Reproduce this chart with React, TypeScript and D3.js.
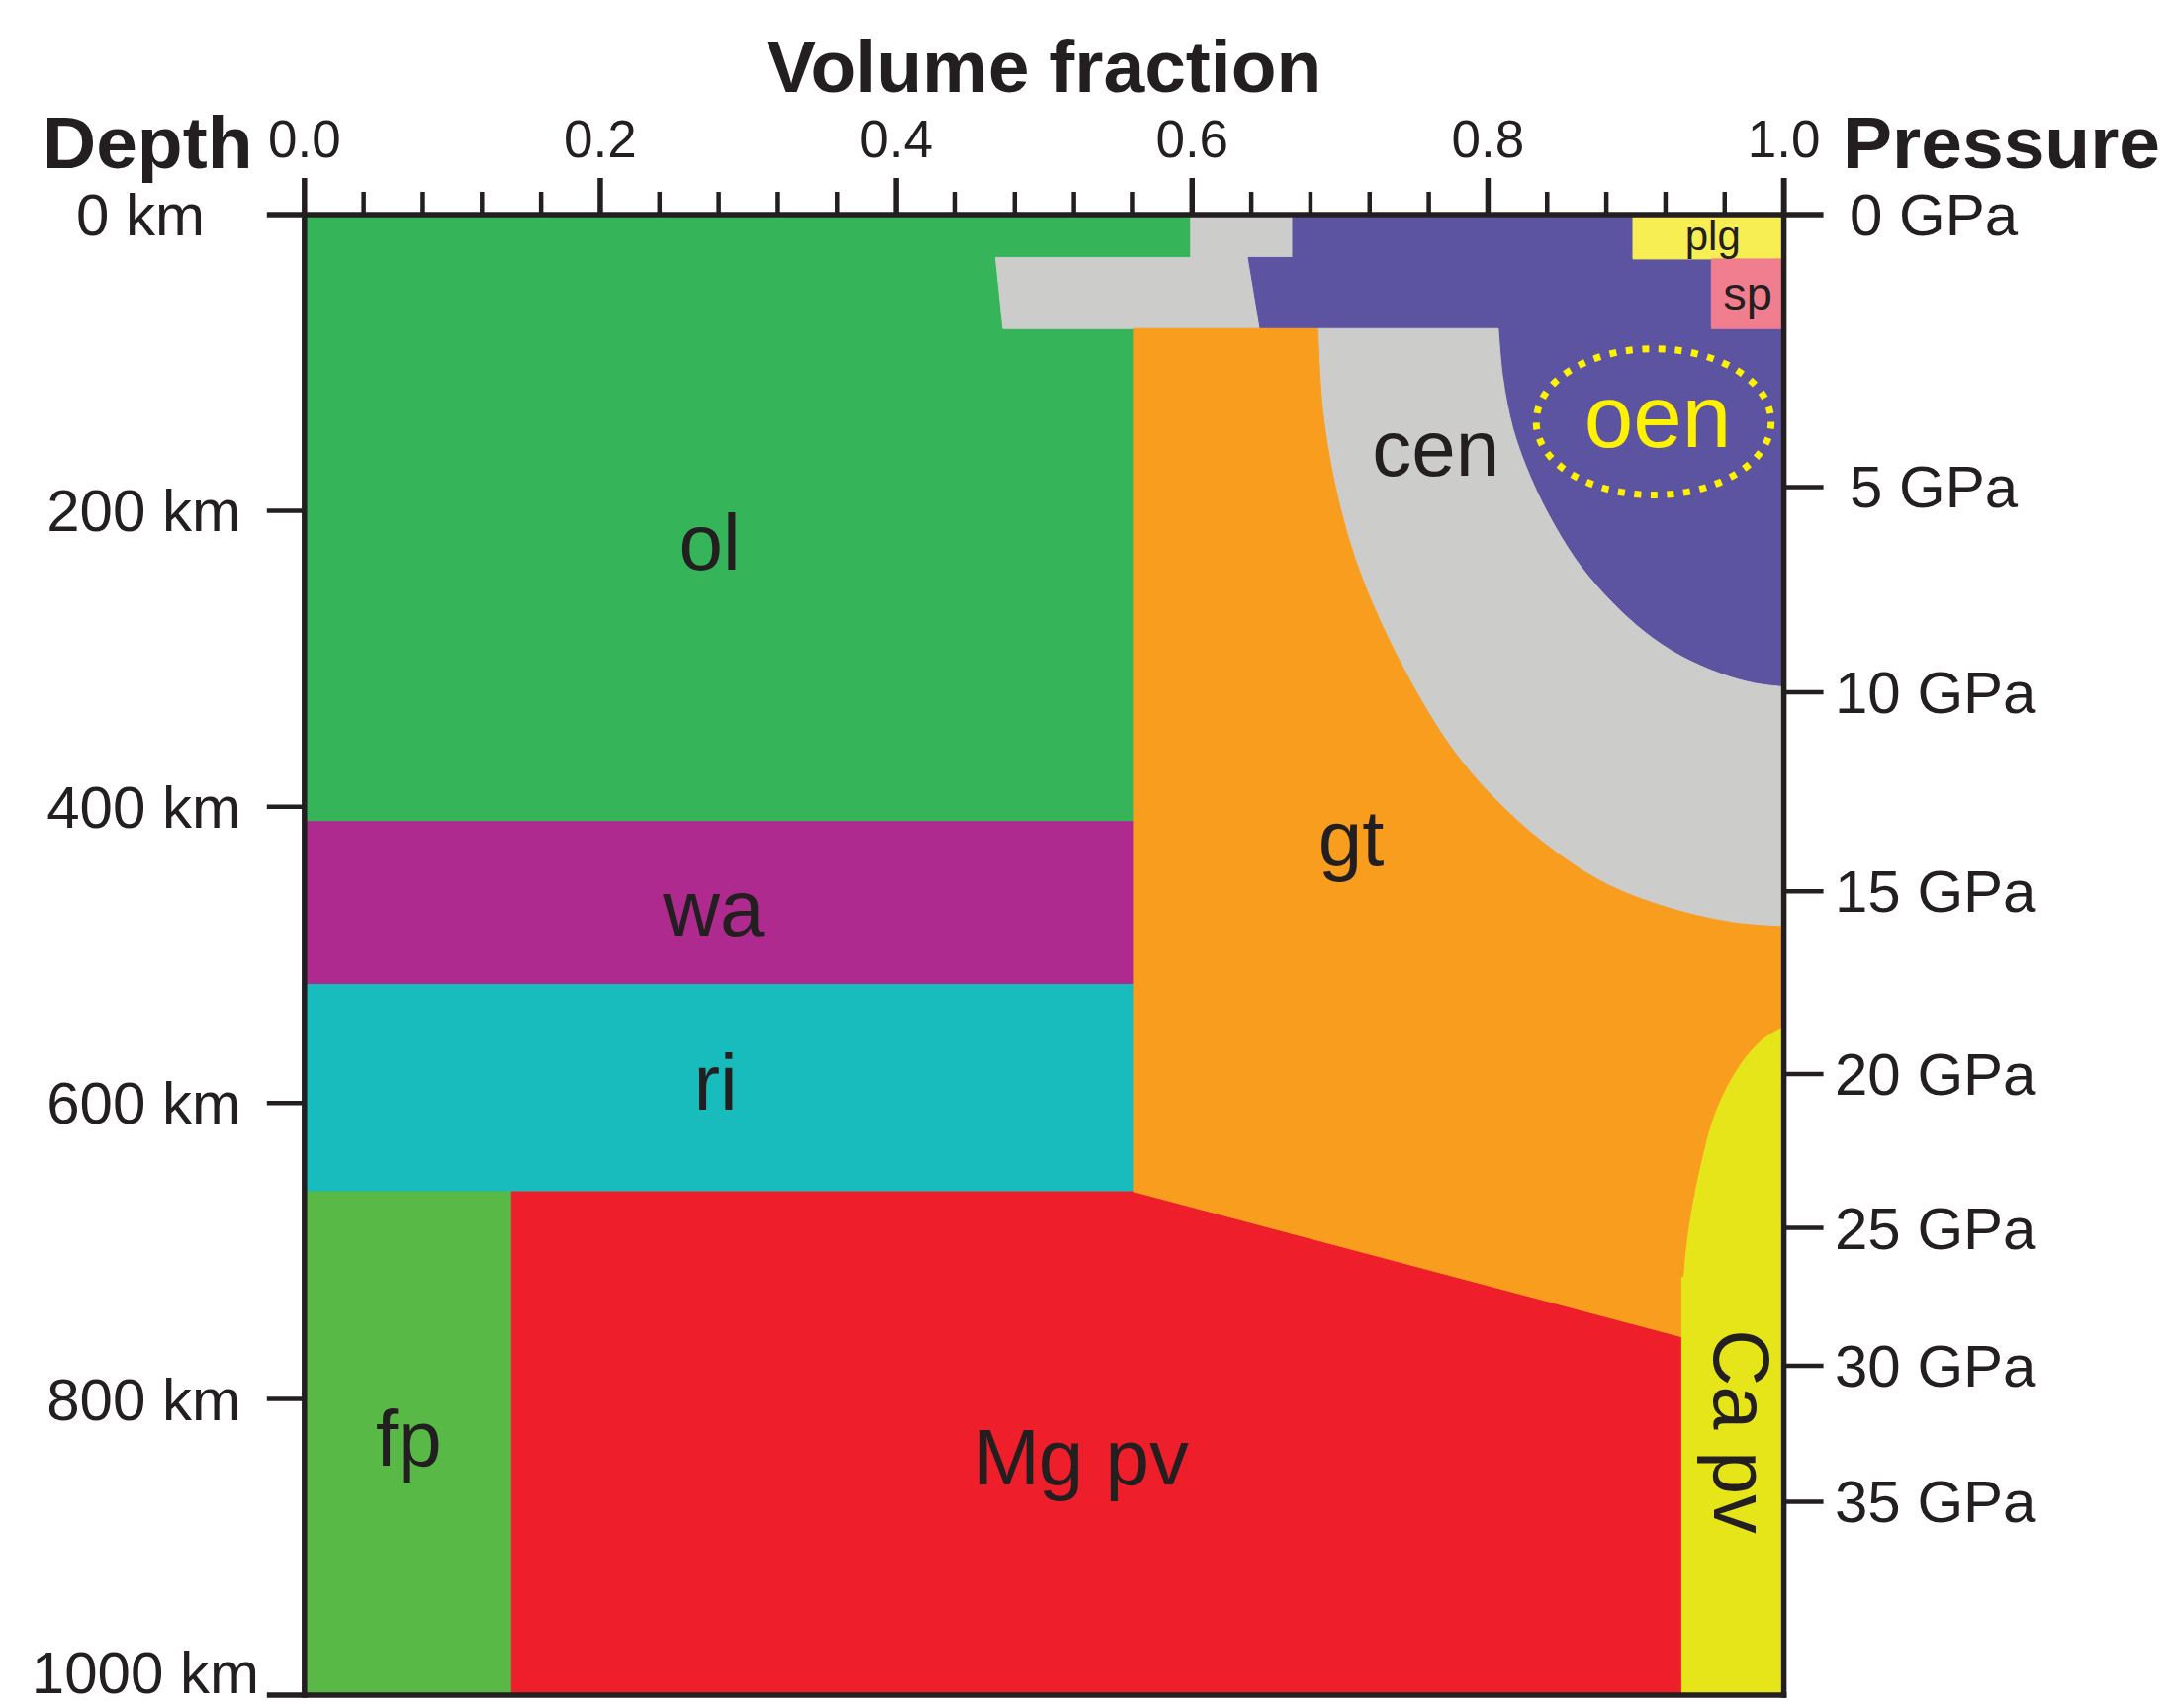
import React from 'react';
import * as d3 from 'd3';

// ---- axis values ----
const fractionTickValues = [0, 0.2, 0.4, 0.6, 0.8, 1.0];
const fractionTickLabels = ['0.0', '0.2', '0.4', '0.6', '0.8', '1.0'];
const fractionMinorStep = 0.04;
const depthTicks = [0, 200, 400, 600, 800, 1000];
const depthTickLabels = ['0 km', '200 km', '400 km', '600 km', '800 km', '1000 km'];
const pressureTicks = [0, 5, 10, 15, 20, 25, 30, 35];
const pressureTickLabels = ['0 GPa', '5 GPa', '10 GPa', '15 GPa', '20 GPa', '25 GPa', '30 GPa', '35 GPa'];
// depth (km) at which each pressure is reached
const pressureDepthKm = [0, 184, 322.6, 457, 580.5, 684.4, 777.6, 869.4];

// ---- phase fields: [volume fraction, depth km] ----
const olPhase: [number, number][] = [[0, 0], [0.599, 0], [0.599, 29], [0.467, 29], [0.472, 77], [0.561, 77], [0.561, 410], [0, 410]];
const cpxShallowPhase: [number, number][] = [[0.599, 0], [0.668, 0], [0.668, 29], [0.638, 29], [0.646, 77], [0.472, 77], [0.467, 29], [0.599, 29]];
const waPhase: [number, number][] = [[0, 410], [0.561, 410], [0.561, 520], [0, 520]];
const riPhase: [number, number][] = [[0, 520], [0.561, 520], [0.561, 660], [0, 660]];
const fpPhase: [number, number][] = [[0, 660], [0.14, 660], [0.14, 1000], [0, 1000]];
const mgPvPhase: [number, number][] = [[0.14, 660], [0.561, 660], [0.931, 758], [0.931, 1000], [0.14, 1000]];
const plgPhase: [number, number][] = [[0.898, 0], [1, 0], [1, 30], [0.898, 30]];
const spPhase: [number, number][] = [[0.951, 30], [1, 30], [1, 77], [0.951, 77]];
const oenShallowEdge: [number, number][] = [[0.668, 0], [0.898, 0], [0.898, 30], [0.951, 30], [0.951, 77], [1, 77], [1, 319]];
const oenUpperLeftEdge: [number, number][] = [[0.807, 77], [0.646, 77], [0.638, 29], [0.668, 29]];

// curved phase boundaries
const cenOenBoundary: [number, number][] = [
  [0.807, 77], [0.81, 110], [0.817, 145], [0.829, 178], [0.845, 210], [0.863, 238],
  [0.884, 262], [0.906, 282], [0.93, 298], [0.957, 310], [0.98, 316.5], [1.0, 319],
];
const gtCenBoundary: [number, number][] = [
  [0.685, 77], [0.688, 130], [0.696, 180], [0.71, 232], [0.732, 285], [0.762, 340],
  [0.782, 369], [0.806, 396], [0.836, 423], [0.876, 450], [0.918, 467], [0.964, 478], [1.0, 481],
];
const caPvBoundary: [number, number][] = [
  [1.0, 548.6], [0.988, 555.5], [0.977, 566], [0.967, 580], [0.958, 597], [0.951, 615],
  [0.946, 634], [0.941, 656], [0.937, 678], [0.934, 700], [0.9325, 718],
];
const caPvLowerEdge: [number, number][] = [[0.931, 718], [0.931, 1000], [1, 1000]];
const gtLowerEdge: [number, number][] = [[0.931, 718], [0.931, 758], [0.561, 660]];

// phase names and anchor points [fraction, depth]
const phaseLabels = [
  { text: 'ol', at: [0.274, 240] },
  { text: 'wa', at: [0.2765, 487] },
  { text: 'ri', at: [0.278, 604.5] },
  { text: 'fp', at: [0.0706, 845] },
  { text: 'Mg pv', at: [0.525, 858] },
  { text: 'gt', at: [0.7075, 439.5] },
  { text: 'cen', at: [0.7648, 176.4] },
];

const COLORS = {
  ol: '#35b45a', wa: '#ae2a8e', ri: '#18bcbc', fp: '#58b947', mgpv: '#ee1f2a',
  gt: '#f89d1e', cen: '#cccccb', oen: '#5c53a1', plg: '#f6ee52', sp: '#f07e8f',
  capv: '#e5e519', accent: '#fff200', ink: '#231f20',
};

const W = 2194;
const H = 1727;
const FONT = '"Liberation Sans", Arial, Helvetica, sans-serif';

const x = d3.scaleLinear().domain([0, 1]).range([307.8, 1803.6]);
const y = d3.scaleLinear().domain([0, 1000]).range([217, 1714]);
const pressureDepth = d3.scaleLinear().domain(pressureTicks).range(pressureDepthKm);

type Seg = { pts: [number, number][]; curve?: boolean };

const curveLine = d3
  .line<[number, number]>()
  .x((d) => x(d[0]))
  .y((d) => y(d[1]))
  .curve(d3.curveCatmullRom.alpha(0.5));

function buildPath(segs: Seg[]): string {
  let out = '';
  segs.forEach((s) => {
    if (s.curve) {
      const p = curveLine(s.pts) || '';
      out += out ? p.replace(/^M/, 'L') : p;
    } else {
      s.pts.forEach((pt) => {
        out += `${out ? 'L' : 'M'}${x(pt[0])},${y(pt[1])}`;
      });
    }
  });
  return out + 'Z';
}

const rev = (a: [number, number][]) => a.slice().reverse();

const phases = [
  { key: 'ol', fill: COLORS.ol, d: buildPath([{ pts: olPhase }]) },
  { key: 'cpx', fill: COLORS.cen, d: buildPath([{ pts: cpxShallowPhase }]) },
  { key: 'wa', fill: COLORS.wa, d: buildPath([{ pts: waPhase }]) },
  { key: 'ri', fill: COLORS.ri, d: buildPath([{ pts: riPhase }]) },
  { key: 'fp', fill: COLORS.fp, d: buildPath([{ pts: fpPhase }]) },
  { key: 'mgpv', fill: COLORS.mgpv, d: buildPath([{ pts: mgPvPhase }]) },
  {
    key: 'oen',
    fill: COLORS.oen,
    d: buildPath([{ pts: oenShallowEdge }, { pts: rev(cenOenBoundary), curve: true }, { pts: oenUpperLeftEdge }]),
  },
  {
    key: 'cen',
    fill: COLORS.cen,
    d: buildPath([{ pts: gtCenBoundary, curve: true }, { pts: rev(cenOenBoundary), curve: true }]),
  },
  {
    key: 'gt',
    fill: COLORS.gt,
    d: buildPath([
      { pts: [[0.561, 77]] },
      { pts: gtCenBoundary, curve: true },
      { pts: caPvBoundary, curve: true },
      { pts: gtLowerEdge },
    ]),
  },
  { key: 'capv', fill: COLORS.capv, d: buildPath([{ pts: caPvBoundary, curve: true }, { pts: caPvLowerEdge }]) },
  { key: 'plg', fill: COLORS.plg, d: buildPath([{ pts: plgPhase }]) },
  { key: 'sp', fill: COLORS.sp, d: buildPath([{ pts: spPhase }]) },
];

const minorFractions = d3.range(0, 1 + 1e-9, fractionMinorStep);

export default function App() {
  const left = x(0);
  const right = x(1);
  const top = y(0);
  const bottom = y(1000);
  const axisW = 5.5;
  const tickW = 4.5;

  return (
    <svg
      width={W}
      height={H}
      viewBox={`0 0 ${W} ${H}`}
      style={{ position: 'absolute', left: 0, top: 0, background: '#fff' }}
      fontFamily={FONT}
    >
      <rect x={0} y={0} width={W} height={H} fill="#fff" />

      {/* phase fields */}
      {phases.map((p) => (
        <path key={p.key} d={p.d} fill={p.fill} stroke={p.fill} strokeWidth={1} strokeLinejoin="round" />
      ))}

      {/* oen highlight */}
      <ellipse
        cx={x(0.912)}
        cy={y(140)}
        rx={x(0.912 + 0.0794) - x(0.912)}
        ry={y(140 + 49.4) - y(140)}
        fill="none"
        stroke={COLORS.accent}
        strokeWidth={7}
        strokeDasharray="7 9.6"
      />

      {/* phase names */}
      {phaseLabels.map((l) => (
        <text
          key={l.text}
          x={x(l.at[0])}
          y={y(l.at[1])}
          textAnchor="middle"
          fontSize={80}
          fill={COLORS.ink}
        >
          {l.text}
        </text>
      ))}
      <text x={x(0.9147)} y={y(156.8)} textAnchor="middle" fontSize={89} fill={COLORS.accent}>
        oen
      </text>
      <text x={x(0.952)} y={y(24.2)} textAnchor="middle" fontSize={42} fill={COLORS.ink}>
        plg
      </text>
      <text x={x(0.9755)} y={y(64.3)} textAnchor="middle" fontSize={47} fill={COLORS.ink}>
        sp
      </text>
      <text
        transform={`translate(${x(0.953)},${y(822)}) rotate(90)`}
        textAnchor="middle"
        fontSize={79}
        fill={COLORS.ink}
      >
        Ca pv
      </text>

      {/* frame */}
      <g stroke={COLORS.ink} strokeLinecap="butt">
        <line x1={left - 38} x2={right + 40} y1={top} y2={top} strokeWidth={axisW} />
        <line x1={left - 38} x2={right + axisW / 2} y1={bottom} y2={bottom} strokeWidth={axisW} />
        <line x1={left} x2={left} y1={top - axisW / 2} y2={bottom + axisW / 2} strokeWidth={axisW} />
        <line x1={right} x2={right} y1={top - 37} y2={bottom + axisW / 2} strokeWidth={axisW} />

        {/* volume fraction ticks */}
        {minorFractions.map((f, i) => {
          const major = i % 5 === 0;
          return (
            <line
              key={`fx${i}`}
              x1={x(f)}
              x2={x(f)}
              y1={top}
              y2={top - (major ? 37 : 23)}
              strokeWidth={major ? axisW : tickW}
            />
          );
        })}

        {/* depth ticks */}
        {depthTicks.slice(1, -1).map((d) => (
          <line key={`dt${d}`} x1={left - 38} x2={left} y1={y(d)} y2={y(d)} strokeWidth={tickW} />
        ))}

        {/* pressure ticks */}
        {pressureTicks.slice(1).map((p) => (
          <line
            key={`pt${p}`}
            x1={right}
            x2={right + 40}
            y1={y(pressureDepth(p))}
            y2={y(pressureDepth(p))}
            strokeWidth={tickW}
          />
        ))}
      </g>

      {/* tick labels */}
      <g fill={COLORS.ink}>
        {fractionTickValues.map((f, i) => (
          <text key={`fl${i}`} x={x(f)} y={159} textAnchor="middle" fontSize={53}>
            {fractionTickLabels[i]}
          </text>
        ))}
        {depthTicks.map((d, i) => {
          const last = i === depthTicks.length - 1;
          const shift = i === 0 ? -37 : last ? 18 : 0;
          return (
            <text
              key={`dl${d}`}
              x={244 + shift}
              y={y(d) + (last ? -2 : 21)}
              textAnchor="end"
              fontSize={60}
            >
              {depthTickLabels[i]}
            </text>
          );
        })}
        {pressureTicks.map((p, i) => (
          <text
            key={`pl${p}`}
            x={p < 10 ? 1870 : 1855}
            y={y(pressureDepth(p)) + 21}
            textAnchor="start"
            fontSize={60}
          >
            {pressureTickLabels[i]}
          </text>
        ))}
      </g>

      {/* axis titles */}
      <g fill={COLORS.ink} fontWeight="bold">
        <text x={(left + right) / 2} y={93} textAnchor="middle" fontSize={75}>
          Volume fraction
        </text>
        <text x={43} y={170} textAnchor="start" fontSize={75}>
          Depth
        </text>
        <text x={1863} y={170} textAnchor="start" fontSize={75}>
          Pressure
        </text>
      </g>
    </svg>
  );
}
